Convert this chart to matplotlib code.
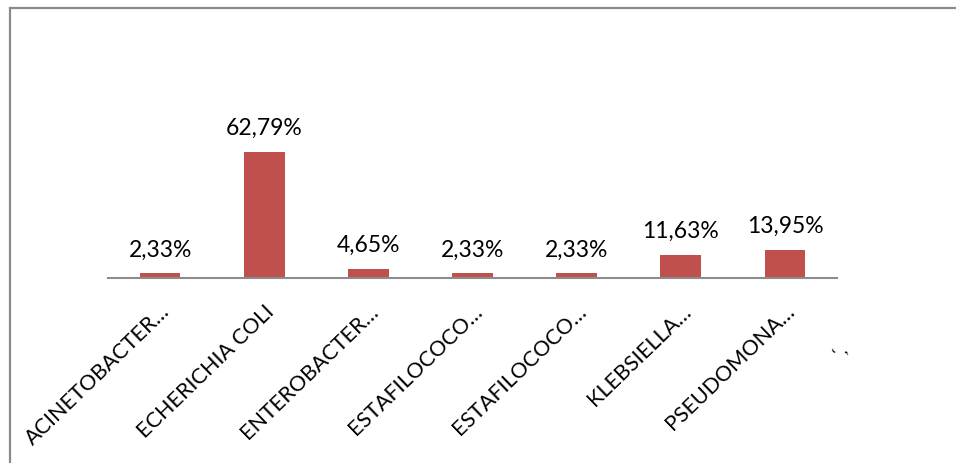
import matplotlib
matplotlib.use("Agg")
import matplotlib.pyplot as plt
from matplotlib.lines import Line2D

categories = ["ACINETOBACTER…", "ECHERICHIA COLI", "ENTEROBACTER…", "ESTAFILOCOCO…",
              "ESTAFILOCOCO…", "KLEBSIELLA…", "PSEUDOMONA…"]
values = [2.33, 62.79, 4.65, 2.33, 2.33, 11.63, 13.95]
value_labels = ["2,33%", "62,79%", "4,65%", "2,33%", "2,33%", "11,63%", "13,95%"]

W, H = 956, 464
fig = plt.figure(figsize=(W / 100, H / 100), dpi=100)
fig.patch.set_facecolor("white")

font = ["Lato", "DejaVu Sans"]

ax_left, ax_right, ax_bottom, ax_top = 108, 837, 279, 138.5
ax = fig.add_axes([ax_left / W, 1 - ax_bottom / H,
                   (ax_right - ax_left) / W, (ax_bottom - ax_top) / H])

x = list(range(len(categories)))
ax.bar(x, values, width=0.39, color="#c0504d")
ax.set_xlim(-0.5, len(categories) - 0.5)
ax.set_ylim(0, 70)

for xi, v, lab in zip(x, values, value_labels):
    ax.annotate(lab, (xi, v), xytext=(0, 10), textcoords="offset points",
                ha="center", va="bottom", fontsize=16.5, family=font, color="#000000")

for s in ["top", "right", "left"]:
    ax.spines[s].set_visible(False)
ax.spines["bottom"].set_color("#8c8c8c")
ax.spines["bottom"].set_linewidth(1.5)
ax.set_yticks([])
ax.set_xticks(x)
ax.set_xticklabels(categories, rotation=44, ha="right", rotation_mode="anchor",
                   fontsize=15.5, family=font)
ax.tick_params(axis="x", length=0, pad=16)

# stray truncated label beyond the last category
fig.text(841 / W, 1 - 352 / H, "‘ ,", rotation=45, fontsize=12, family=font,
         ha="center", va="center")

# chart frame (left and top edges)
fig.add_artist(Line2D([10 / W, 10 / W], [0, 1 - 8.5 / H], transform=fig.transFigure,
                      color="#8a8a8a", linewidth=1.6))
fig.add_artist(Line2D([10 / W, 1], [1 - 8.5 / H, 1 - 8.5 / H], transform=fig.transFigure,
                      color="#8a8a8a", linewidth=1.6))

fig.savefig("out.png", dpi=100)
